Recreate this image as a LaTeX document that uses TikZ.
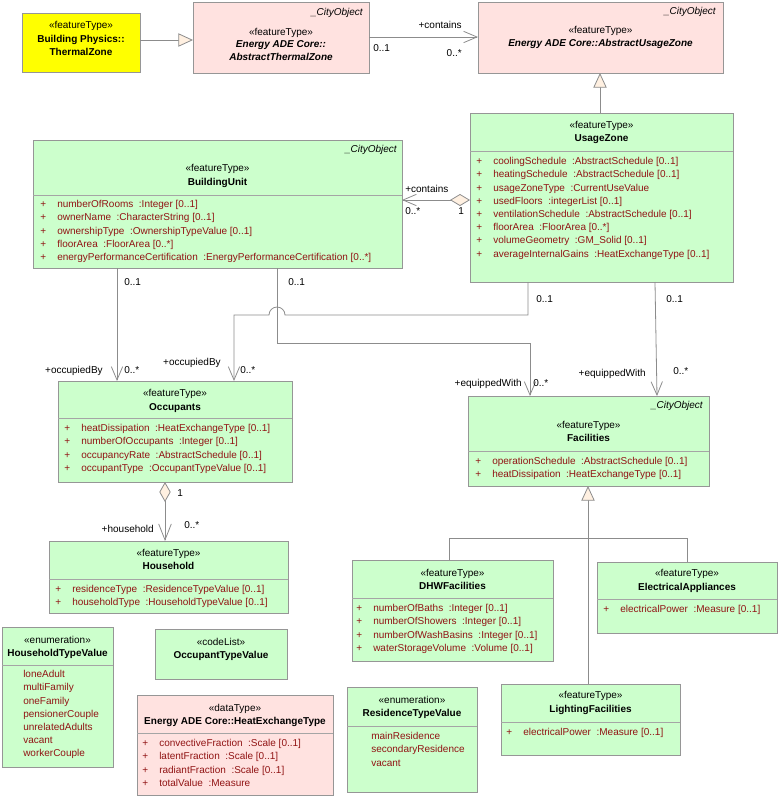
\documentclass[tikz,border=0pt]{standalone}
\usepackage{fontspec}
\setmainfont{Liberation Sans}
\usetikzlibrary{arrows.meta,fit}
\definecolor{umlgreen}{RGB}{204,255,204}
\definecolor{umlpink}{RGB}{255,226,224}
\definecolor{umlyellow}{RGB}{255,255,0}
\definecolor{boxline}{RGB}{150,150,150}
\definecolor{sepcol}{RGB}{165,165,165}
\definecolor{attrred}{RGB}{145,20,20}
\definecolor{connline}{RGB}{140,140,140}
\definecolor{beige}{RGB}{255,240,225}
\newcommand{\umlfont}{\fontsize{7.5}{9.9}\selectfont}
\newcommand{\pl}{\makebox[12.75pt][l]{+}}
\newcommand{\alist}[1]{\begin{tabular}[t]{@{}l@{}}#1\end{tabular}}
\tikzset{
  umlbox/.style={draw=boxline, line width=0.6pt, inner sep=0pt, outer sep=0pt},
  gbox/.style={umlbox, fill=umlgreen},
  pbox/.style={umlbox, fill=umlpink},
  ybox/.style={umlbox, fill=umlyellow},
  sepline/.style={draw=sepcol, line width=0.5pt},
  stereo/.style={font=\umlfont, inner sep=0pt, text height=5.4pt, text depth=0pt},
  ttl/.style={stereo, font=\umlfont\bfseries},
  ittl/.style={stereo, font=\umlfont\bfseries\itshape},
  cityobj/.style={stereo, font=\umlfont\itshape, anchor=east},
  attrs/.style={font=\umlfont, text=attrred, inner sep=0pt, anchor=base west},
  lbl/.style={stereo},
  lblw/.style={lbl, anchor=west},
  lble/.style={lbl, anchor=east},
  conn/.style={draw=connline, line width=0.6pt},
  nav/.style={conn, -{Straight Barb[length=10pt, width=8.5pt]}},
  gen/.style={conn, -{Triangle[length=11pt, width=10pt, fill=beige]}},
  agg/.style={conn, {Diamond[length=15pt, width=9pt, fill=beige]}-{Straight Barb[length=10pt, width=8.5pt]}},
}
\begin{document}
\begin{tikzpicture}[x=0.75pt, y=-0.75pt]
\useasboundingbox (0,0) rectangle (778,797);

% ---------- Building Physics::ThermalZone
\node[ybox, fit={(22,13) (140,72)}] (tz) {};
\node[stereo] (tz-s) at (81,25) {«featureType»};
\node[ttl] (tz-t1) at (81,39) {Building Physics::};
\node[ttl] (tz-t2) at (81,52) {ThermalZone};

% ---------- AbstractThermalZone
\node[pbox, fit={(193,2) (369,73)}] (atz) {};
\node[cityobj] (atz-c) at (363,12) {\_CityObject};
\node[stereo] (atz-s) at (281,32) {«featureType»};
\node[ittl] (atz-t1) at (281,44) {Energy ADE Core::};
\node[ittl] (atz-t2) at (281,57) {AbstractThermalZone};

% ---------- AbstractUsageZone
\node[pbox, fit={(478,2) (723,73)}] (auz) {};
\node[cityobj] (auz-c) at (716,11) {\_CityObject};
\node[stereo] (auz-s) at (600.5,30) {«featureType»};
\node[ittl] (auz-t) at (600.5,43) {Energy ADE Core::AbstractUsageZone};

% ---------- BuildingUnit
\node[gbox, fit={(33,140) (402,268)}] (bu) {};
\node[cityobj] (bu-c) at (397,149) {\_CityObject};
\node[stereo] (bu-s) at (217.5,168) {«featureType»};
\node[ttl] (bu-t) at (217.5,182) {BuildingUnit};
\draw[sepline] (bu.west |- 0,195) -- (bu.east |- 0,195);
\node[attrs] (bu-a) at (40,207.6) {\alist{%
\pl numberOfRooms\ \ :Integer [0..1]\\
\pl ownerName\ \ :CharacterString [0..1]\\
\pl ownershipType\ \ :OwnershipTypeValue [0..1]\\
\pl floorArea\ \ :FloorArea [0..*]\\
\pl energyPerformanceCertification\ \ :EnergyPerformanceCertification [0..*]}};

% ---------- UsageZone
\node[gbox, fit={(470,113) (733,282)}] (uz) {};
\node[stereo] (uz-s) at (601.5,125) {«featureType»};
\node[ttl] (uz-t) at (601.5,138) {UsageZone};
\draw[sepline] (uz.west |- 0,151) -- (uz.east |- 0,151);
\node[attrs] (uz-a) at (476,164.6) {\alist{%
\pl coolingSchedule\ \ :AbstractSchedule [0..1]\\
\pl heatingSchedule\ \ :AbstractSchedule [0..1]\\
\pl usageZoneType\ \ :CurrentUseValue\\
\pl usedFloors\ \ :integerList [0..1]\\
\pl ventilationSchedule\ \ :AbstractSchedule [0..1]\\
\pl floorArea\ \ :FloorArea [0..*]\\
\pl volumeGeometry\ \ :GM\_Solid [0..1]\\
\pl averageInternalGains\ \ :HeatExchangeType [0..1]}};

% ---------- Occupants
\node[gbox, fit={(58,381) (292,482)}] (occ) {};
\node[stereo] (occ-s) at (175,393) {«featureType»};
\node[ttl] (occ-t) at (175,407) {Occupants};
\draw[sepline] (occ.west |- 0,418) -- (occ.east |- 0,418);
\node[attrs] (occ-a) at (64,431.6) {\alist{%
\pl heatDissipation\ \ :HeatExchangeType [0..1]\\
\pl numberOfOccupants\ \ :Integer [0..1]\\
\pl occupancyRate\ \ :AbstractSchedule [0..1]\\
\pl occupantType\ \ :OccupantTypeValue [0..1]}};

% ---------- Facilities
\node[gbox, fit={(468,396) (709,486)}] (fac) {};
\node[cityobj] (fac-c) at (703,405) {\_CityObject};
\node[stereo] (fac-s) at (588.5,425) {«featureType»};
\node[ttl] (fac-t) at (588.5,438) {Facilities};
\draw[sepline] (fac.west |- 0,451) -- (fac.east |- 0,451);
\node[attrs] (fac-a) at (475,464.6) {\alist{%
\pl operationSchedule\ \ :AbstractSchedule [0..1]\\
\pl heatDissipation\ \ :HeatExchangeType [0..1]}};

% ---------- Household
\node[gbox, fit={(49,541) (288,613)}] (hh) {};
\node[stereo] (hh-s) at (168.5,553) {«featureType»};
\node[ttl] (hh-t) at (168.5,566) {Household};
\draw[sepline] (hh.west |- 0,579) -- (hh.east |- 0,579);
\node[attrs] (hh-a) at (55,592.6) {\alist{%
\pl residenceType\ \ :ResidenceTypeValue [0..1]\\
\pl householdType\ \ :HouseholdTypeValue [0..1]}};

% ---------- DHWFacilities
\node[gbox, fit={(352,560) (553,661)}] (dhw) {};
\node[stereo] (dhw-s) at (452.5,573) {«featureType»};
\node[ttl] (dhw-t) at (452.5,586) {DHWFacilities};
\draw[sepline] (dhw.west |- 0,598) -- (dhw.east |- 0,598);
\node[attrs] (dhw-a) at (356,611.6) {\alist{%
\pl numberOfBaths\ \ :Integer [0..1]\\
\pl numberOfShowers\ \ :Integer [0..1]\\
\pl numberOfWashBasins\ \ :Integer [0..1]\\
\pl waterStorageVolume\ \ :Volume [0..1]}};

% ---------- ElectricalAppliances
\node[gbox, fit={(597,562) (777,633)}] (ea) {};
\node[stereo] (ea-s) at (687,573) {«featureType»};
\node[ttl] (ea-t) at (687,587) {ElectricalAppliances};
\draw[sepline] (ea.west |- 0,599) -- (ea.east |- 0,599);
\node[attrs] (ea-a) at (603,612.6) {\alist{%
\pl electricalPower\ \ :Measure [0..1]}};

% ---------- LightingFacilities
\node[gbox, fit={(501,684) (680,755)}] (lf) {};
\node[stereo] (lf-s) at (590.5,695) {«featureType»};
\node[ttl] (lf-t) at (590.5,709) {LightingFacilities};
\draw[sepline] (lf.west |- 0,722) -- (lf.east |- 0,722);
\node[attrs] (lf-a) at (506,735.6) {\alist{%
\pl electricalPower\ \ :Measure [0..1]}};

% ---------- HouseholdTypeValue
\node[gbox, fit={(2,627) (113,767)}] (htv) {};
\node[stereo] (htv-s) at (57.5,640) {«enumeration»};
\node[ttl] (htv-t) at (57.5,653) {HouseholdTypeValue};
\draw[sepline] (htv.west |- 0,665) -- (htv.east |- 0,665);
\node[attrs] (htv-a) at (23,677.6) {\alist{%
loneAdult\\ multiFamily\\ oneFamily\\ pensionerCouple\\ unrelatedAdults\\ vacant\\ workerCouple}};

% ---------- OccupantTypeValue
\node[gbox, fit={(155,629) (287,679)}] (otv) {};
\node[stereo] (otv-s) at (221,642) {«codeList»};
\node[ttl] (otv-t) at (221,655) {OccupantTypeValue};

% ---------- HeatExchangeType
\node[pbox, fit={(137,695) (333,795)}] (het) {};
\node[stereo] (het-s) at (235,708) {«dataType»};
\node[ttl] (het-t) at (235,721) {Energy ADE Core::HeatExchangeType};
\draw[sepline] (het.west |- 0,733) -- (het.east |- 0,733);
\node[attrs] (het-a) at (142,746.6) {\alist{%
\pl convectiveFraction\ \ :Scale [0..1]\\
\pl latentFraction\ \ :Scale [0..1]\\
\pl radiantFraction\ \ :Scale [0..1]\\
\pl totalValue\ \ :Measure}};

% ---------- ResidenceTypeValue
\node[gbox, fit={(347,687) (477,792)}] (rtv) {};
\node[stereo] (rtv-s) at (412,700) {«enumeration»};
\node[ttl] (rtv-t) at (412,713) {ResidenceTypeValue};
\draw[sepline] (rtv.west |- 0,726) -- (rtv.east |- 0,726);
\node[attrs] (rtv-a) at (371,739.6) {\alist{%
mainResidence\\ secondaryResidence\\ vacant}};

% ================= connectors
% generalizations
\draw[gen] (tz.east |- 0,40) -- (atz.west |- 0,40);
\draw[gen] (uz.north -| 600,0) -- (auz.south -| 600,0);

% AbstractThermalZone -> AbstractUsageZone
\draw[nav] (atz.east |- 0,37) -- (auz.west |- 0,37);
\node[lblw] (l1a) at (373,48) {0..1};
\node[lble] (l1b) at (462,25) {+contains};
\node[lble] (l1c) at (462,53) {0..*};

% UsageZone <>-- BuildingUnit
\draw[agg] (uz.west |- 0,200) -- (bu.east |- 0,200);
\node[lblw] (l2a) at (405,189) {+contains};
\node[lblw] (l2b) at (405,211) {0..*};
\node[lblw] (l2c) at (458,211) {1};

% BuildingUnit -> Occupants
\draw[nav] (bu.south -| 117,0) -- (occ.north -| 117,0);
\node[lblw] (l3a) at (124,282) {0..1};
\node[lble] (l3b) at (103,370) {+occupiedBy};
\node[lblw] (l3c) at (124,370) {0..*};

% BuildingUnit -> Facilities
\draw[nav] (bu.south -| 277,0) -- (277,343) -- (530,343) -- (fac.north -| 530,0);
\node[lblw] (l4a) at (288,282) {0..1};
\node[lble] (l4b) at (522,383) {+equippedWith};
\node[lblw] (l4c) at (533,383) {0..*};

% UsageZone -> Occupants (with line hop)
\draw[nav] (uz.south -| 528,0) -- (528,315) -- (285,315)
  arc[start angle=0, end angle=180, radius=6pt] -- (234,315) -- (occ.north -| 234,0);
\node[lblw] (l5a) at (536,299) {0..1};
\node[lble] (l5b) at (221,362) {+occupiedBy};
\node[lblw] (l5c) at (240,370) {0..*};

% UsageZone -> Facilities
\draw[nav] (uz.south -| 655,0) -- (fac.north -| 657,0);
\node[lblw] (l6a) at (666,299) {0..1};
\node[lble] (l6b) at (646,373) {+equippedWith};
\node[lblw] (l6c) at (673,371) {0..*};

% Occupants <>-- Household
\draw[conn, {Diamond[length=15pt, width=8.5pt, fill=beige]}-{Straight Barb[length=12pt, width=9.5pt]}]
  (occ.south -| 165,0) -- (hh.north -| 165,0);
\node[lblw] (l7a) at (177,493) {1};
\node[lble] (l7b) at (154,529) {+household};
\node[lblw] (l7c) at (184,525) {0..*};

% Facilities specialisations
\draw[gen] (lf.north -| 588,0) -- (fac.south -| 588,0);
\draw[conn] (dhw.north -| 449,0) -- (449,538) -- (687,538) -- (ea.north -| 687,0);
\end{tikzpicture}
\end{document}
